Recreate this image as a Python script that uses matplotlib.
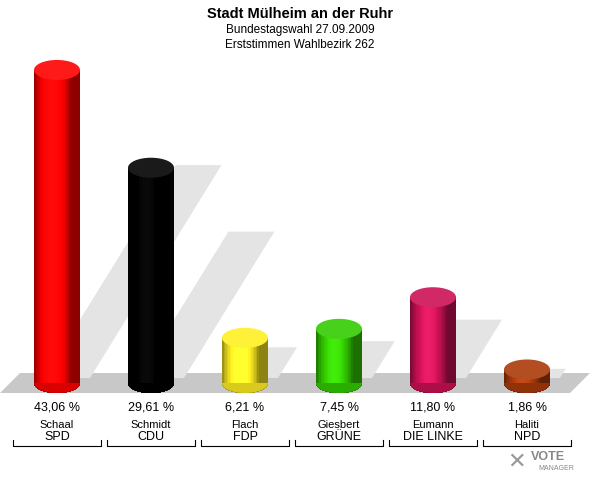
import matplotlib
matplotlib.use("Agg")
import matplotlib.pyplot as plt
from matplotlib.patches import Polygon, Ellipse, Rectangle
import numpy as np
from matplotlib.colors import to_rgb

names = ["Schaal", "Schmidt", "Flach", "Giesbert", "Eumann", "Haliti"]
parties = ["SPD", "CDU", "FDP", "GRÜNE", "DIE LINKE", "NPD"]
values = [43.06, 29.61, 6.21, 7.45, 11.80, 1.86]
labels = ["43,06 %", "29,61 %", "6,21 %", "7,45 %", "11,80 %", "1,86 %"]
colors = ["#ff0000", "#000000", "#ffee22", "#33cc00", "#cc1155", "#aa3a0a"]

fig = plt.figure(figsize=(6, 4.8), dpi=100)
ax = fig.add_axes([0, 0, 1, 1])
ax.set_xlim(0, 600); ax.set_ylim(480, 0); ax.axis("off")

fig.text(0.5, 1 - 14/480, "Stadt Mülheim an der Ruhr", ha="center", va="center", fontsize=10.5, fontweight="bold", family="Liberation Sans")
fig.text(0.5, 1 - 30/480, "Bundestagswahl 27.09.2009", ha="center", va="center", fontsize=8.5, family="Liberation Sans")
fig.text(0.5, 1 - 45/480, "Erststimmen Wahlbezirk 262", ha="center", va="center", fontsize=8.5, family="Liberation Sans")

base = 383
scale = 7.27
w = 46
ey = 10
xs = [57 + 94*i for i in range(6)]

# floor
ax.add_patch(Polygon([(0, 393), (20, 373), (590, 373), (570, 393)], closed=True, fc="#c8c8c8", ec="none", zorder=1))

for x, v in zip(xs, values):
    h = v*scale
    dx, dy = 0.42*h, 0.68*h
    ax.add_patch(Polygon([(x-w/2+10, base-5), (x+w/2+10, base-5), (x+w/2+10+dx, base-5-dy), (x-w/2+10+dx, base-5-dy)],
                         closed=True, fc="#e4e4e4", ec="none", zorder=1.5))

for x, v, c in zip(xs, values, colors):
    h = v*scale
    top = base - h
    rgb = np.array(to_rgb(c))
    n = 30
    for k in range(n):
        t = (k + 0.5)/n
        f = 0.55 + 0.6*np.sin(np.pi*min(1, t*1.25))**0.8
        col = np.clip(rgb*f + (0.25 if f > 1.05 else 0)*(1-rgb)*(f-1), 0, 1)
        xl = x - w/2 + k*w/n
        ax.add_patch(Rectangle((xl, top), w/n + 0.3, h, fc=col, ec="none", zorder=2))
        ax.add_patch(Ellipse((x, base), w, 2*ey, fc=rgb*0.6, ec="none", zorder=1.9))
    # bottom ellipse half with gradient approximated
    th = np.linspace(0, np.pi, 40)
    for k in range(n):
        pass
    ax.add_patch(Ellipse((x, base), w, 2*ey, fc=np.clip(rgb*0.85, 0, 1), ec="none", zorder=1.95))
    ax.add_patch(Ellipse((x, top), w, 2*ey, fc=np.clip(rgb*1.0 + (1-rgb)*0.1, 0, 1), ec="none", zorder=3))

for x, lab, nm, p in zip(xs, labels, names, parties):
    ax.text(x, 408, lab, ha="center", va="center", fontsize=9, family="Liberation Sans")
    ax.text(x, 425, nm, ha="center", va="center", fontsize=8, family="Liberation Sans")
    ax.text(x, 437, p, ha="center", va="center", fontsize=9, family="Liberation Sans")
    ax.plot([x-44, x-44, x+44, x+44], [440, 446, 446, 440], color="black", lw=0.8, zorder=4)

ax.text(548, 457, "VOTE", ha="center", va="center", fontsize=9, fontweight="bold", color="#888888", family="Liberation Sans")
ax.text(556, 468, "MANAGER", ha="center", va="center", fontsize=5, color="#888888", family="Liberation Sans")
ax.text(516, 462, "✕", ha="center", va="center", fontsize=16, fontweight="bold", color="#999999", family="DejaVu Sans")

fig.savefig("out.png", dpi=100)
